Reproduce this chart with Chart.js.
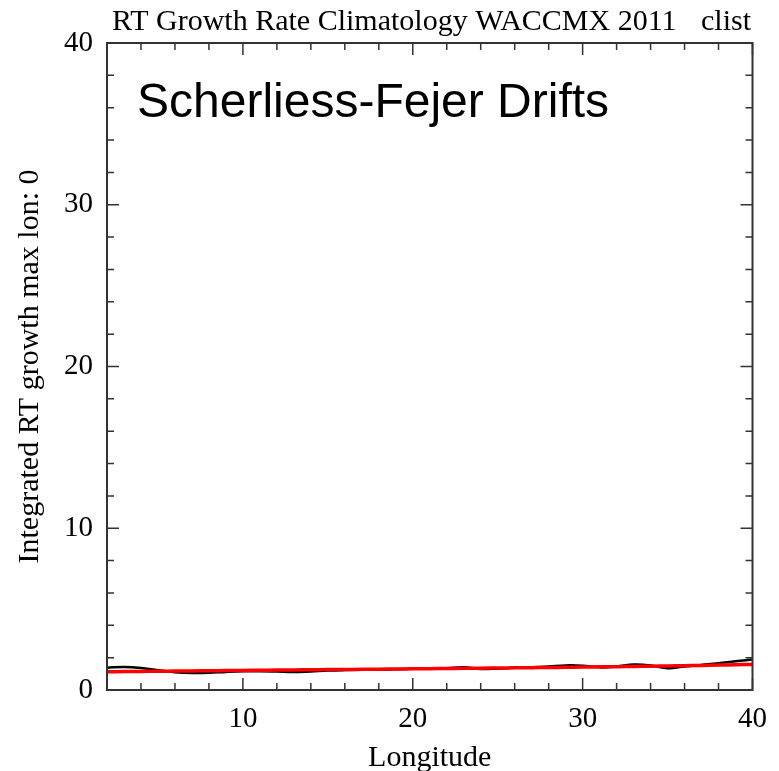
<!DOCTYPE html>
<html>
<head>
<meta charset="utf-8">
<script src="https://cdn.jsdelivr.net/npm/chart.js@4"></script>
<style>
html,body{margin:0;padding:0;background:#fff;}
#wrap{width:779px;height:771px;}
</style>
</head>
<body>
<div id="wrap"><canvas id="c" width="779" height="771"></canvas></div>
<script>
const longitude = [2,3,4,5,6,7,8,9,10,11,12,13,14,15,16,17,18,19,20,21,22,23,24,25,26,27,28,29,30,31,32,33,34,35,36,37,38,39,40];
const growthRate = [1.38,1.42,1.36,1.22,1.10,1.05,1.06,1.12,1.16,1.16,1.14,1.11,1.15,1.20,1.23,1.25,1.25,1.29,1.31,1.31,1.34,1.40,1.30,1.32,1.37,1.40,1.45,1.52,1.50,1.40,1.45,1.57,1.52,1.35,1.45,1.55,1.65,1.78,1.88];
const fitLine = [1.13,1.14,1.15,1.16,1.17,1.18,1.19,1.20,1.21,1.22,1.23,1.24,1.25,1.26,1.27,1.28,1.29,1.30,1.31,1.32,1.33,1.34,1.35,1.36,1.37,1.38,1.39,1.40,1.42,1.43,1.44,1.46,1.47,1.49,1.50,1.52,1.54,1.56,1.58];
const xTickValues = [10,20,30,40];
const yTickValues = [0,10,20,30,40];
const titleText = "RT Growth Rate Climatology WACCMX 2011";
const titleRight = "clist";
const annotationText = "Scherliess-Fejer Drifts";
const xTitle = "Longitude";
const yTitle = "Integrated RT growth max lon: 0";

const serif = "'Liberation Serif', 'DejaVu Serif', serif";
const sans = "'Liberation Sans', Arial, sans-serif";

const frame = {
  id: 'frame',
  afterDatasetsDraw(chart) {
    const {ctx, chartArea: a, scales: {x, y}} = chart;
    ctx.save();
    ctx.strokeStyle = '#333';
    ctx.lineWidth = 2;
    ctx.strokeRect(a.left, a.top, a.right - a.left, a.bottom - a.top);
    ctx.beginPath();
    for (let v = 4; v <= 40; v += 2) {
      const px = x.getPixelForValue(v);
      const len = (v % 10 === 0) ? 12 : 7;
      ctx.moveTo(px, a.bottom); ctx.lineTo(px, a.bottom - len);
      ctx.moveTo(px, a.top); ctx.lineTo(px, a.top + len);
    }
    for (let v = 2; v < 40; v += 2) {
      const py = y.getPixelForValue(v);
      const len = (v % 10 === 0) ? 12 : 7;
      ctx.moveTo(a.left, py); ctx.lineTo(a.left + len, py);
      ctx.moveTo(a.right, py); ctx.lineTo(a.right - len, py);
    }
    ctx.lineWidth = 1.5;
    ctx.stroke();
    // title
    ctx.fillStyle = '#000';
    ctx.font = "30px " + serif;
    ctx.textBaseline = 'alphabetic';
    ctx.textAlign = 'left';
    ctx.fillText(titleText, 112, 30);
    ctx.textAlign = 'right';
    ctx.fillText(titleRight, 751, 30);
    // annotation
    ctx.font = "48px " + sans;
    ctx.textAlign = 'left';
    ctx.fillText(annotationText, 137, 117);
    ctx.restore();
  }
};

new Chart(document.getElementById('c'), {
  type: 'line',
  data: {
    datasets: [
      {
        data: longitude.map((v, i) => ({x: v, y: growthRate[i]})),
        borderColor: '#000', borderWidth: 2.5, pointRadius: 0, tension: 0.4, fill: false, order: 2
      },
      {
        data: longitude.map((v, i) => ({x: v, y: fitLine[i]})),
        borderColor: '#ff0000', borderWidth: 3.5, pointRadius: 0, tension: 0.4, fill: false, order: 1
      }
    ]
  },
  options: {
    responsive: false,
    animation: false,
    layout: {padding: {top: 43, right: 26, left: 0, bottom: 0}},
    plugins: {legend: {display: false}, tooltip: {enabled: false}, title: {display: false}},
    scales: {
      x: {
        type: 'linear', min: 2, max: 40,
        afterBuildTicks: s => { s.ticks = xTickValues.map(v => ({value: v})); },
        afterFit: s => { s.height = 81; },
        grid: {display: false, drawTicks: false},
        border: {display: false},
        ticks: {color: '#000', font: {family: serif, size: 29}, padding: 12, maxRotation: 0},
        title: {display: true, text: xTitle, color: '#000', font: {family: serif, size: 30, lineHeight: 0.85}, padding: {top: 0, bottom: 0}}
      },
      y: {
        type: 'linear', min: 0, max: 40,
        afterBuildTicks: s => { s.ticks = yTickValues.map(v => ({value: v})); },
        afterFit: s => { s.width = 107; },
        grid: {display: false, drawTicks: false},
        border: {display: false},
        ticks: {color: '#000', font: {family: serif, size: 29}, padding: 14},
        title: {display: true, text: yTitle, color: '#000', font: {family: serif, size: 30}, padding: {top: 12, bottom: 0}}
      }
    }
  },
  plugins: [frame]
});
</script>
</body>
</html>
